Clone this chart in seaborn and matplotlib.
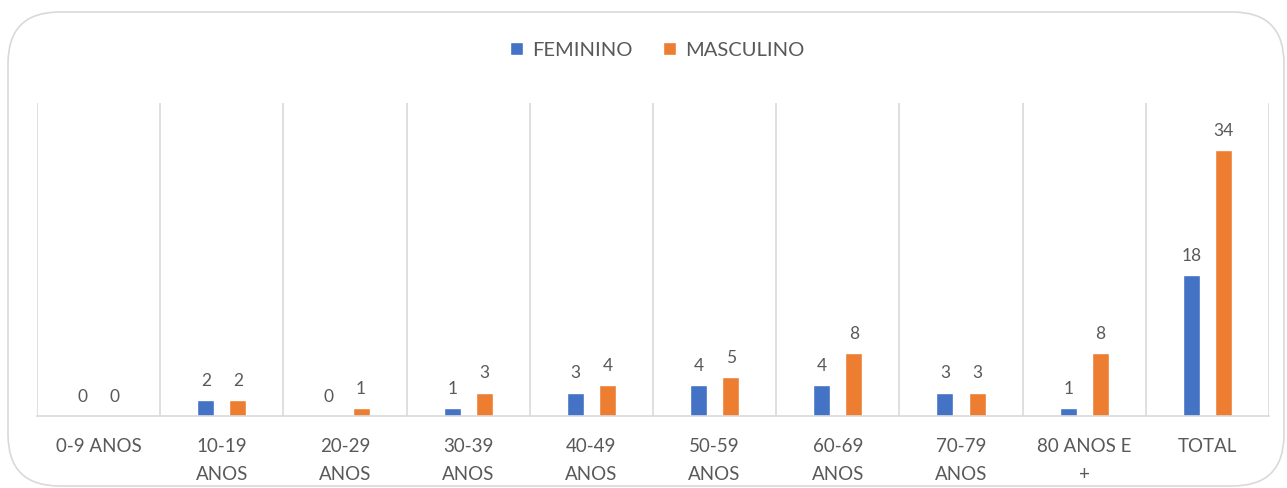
import matplotlib
matplotlib.use("Agg")
import matplotlib.pyplot as plt
from matplotlib.patches import FancyBboxPatch
import seaborn as sns
import pandas as pd

categories = ["0-9 ANOS", "10-19\nANOS", "20-29\nANOS", "30-39\nANOS", "40-49\nANOS",
              "50-59\nANOS", "60-69\nANOS", "70-79\nANOS", "80 ANOS E\n+", "TOTAL"]
feminino = [0, 2, 0, 1, 3, 4, 4, 3, 1, 18]
masculino = [0, 2, 1, 3, 4, 5, 8, 3, 8, 34]
series = ["FEMININO", "MASCULINO"]
colors = ["#4472C4", "#ED7D31"]

df = pd.DataFrame({
    "cat": categories * 2,
    "val": feminino + masculino,
    "serie": [series[0]] * len(categories) + [series[1]] * len(categories),
})

sns.set_theme(style="white")
plt.rcParams["font.family"] = ["Lato", "DejaVu Sans"]

fig = plt.figure(figsize=(12.87, 4.88), dpi=100)
ax = fig.add_axes([37/1287, 1 - 416/488, (1269-37)/1287, (416-103)/488])

sns.barplot(data=df, x="cat", y="val", hue="serie", palette=colors, ax=ax,
            width=0.52, gap=0.47, dodge=True, saturation=1, legend=True)

txt = "#595959"
for cont in ax.containers:
    ax.bar_label(cont, padding=8, fontsize=12.5, color=txt)

ax.set_ylim(0, 40)
ax.set_xlim(-0.5, len(categories) - 0.5)
ax.set_yticks([])
ax.set_xlabel("")
ax.set_ylabel("")
for i in range(len(categories) + 1):
    ax.axvline(i - 0.5, color="#D9D9D9", lw=1.2, zorder=0)
for s in ["top", "right", "left"]:
    ax.spines[s].set_visible(False)
ax.spines["bottom"].set_color("#D9D9D9")
ax.spines["bottom"].set_linewidth(1.2)
ax.tick_params(axis="x", length=0, pad=16, labelsize=13.5, labelcolor=txt)
for lab in ax.get_xticklabels():
    lab.set_linespacing(1.75)
    lab.set_verticalalignment("top")

ax.legend(loc="center", ncol=2, frameon=False,
          fontsize=14.5, handlelength=0.65, handleheight=0.65, handletextpad=0.45,
          columnspacing=1.5, labelcolor=txt)
ax.get_legend().set_bbox_to_anchor((657/1287, 1 - 50/488), transform=fig.transFigure)

border = FancyBboxPatch((8/1287, 2/488), 1276/1287, 474/488,
                        boxstyle="round,pad=0,rounding_size=0.04",
                        transform=fig.transFigure, fill=False,
                        edgecolor="#D9D9D9", lw=1.2, mutation_aspect=1287/488)
fig.patches.append(border)

fig.savefig("out.png", dpi=100, facecolor="white")
